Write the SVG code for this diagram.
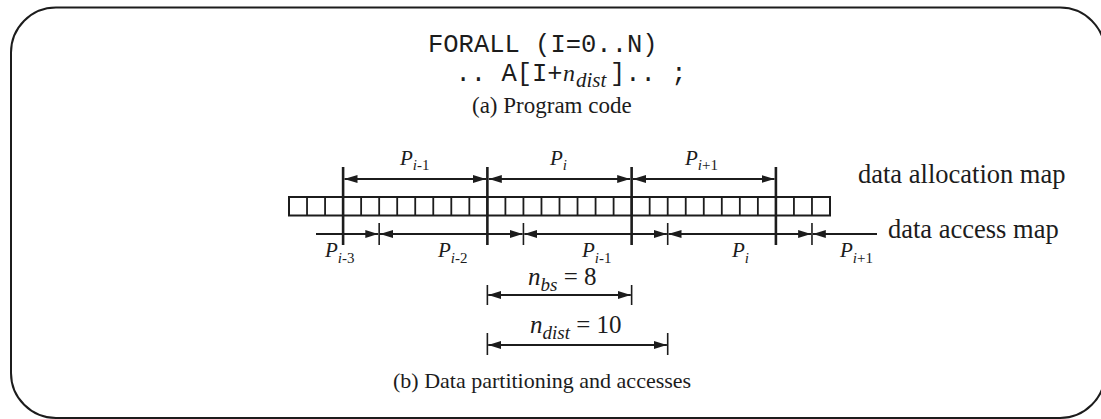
<svg xmlns="http://www.w3.org/2000/svg" width="1101" height="419" viewBox="0 0 1101 419">
<style>
.ink{fill:#1c1c1c}
.mono{font-family:"Liberation Mono","DejaVu Sans Mono",monospace;font-size:25.5px;fill:#1c1c1c}
.serif{font-family:"Liberation Serif","DejaVu Serif",serif;fill:#1c1c1c}
.it{font-style:italic}
.ln{stroke:#1c1c1c;fill:none}
.arr{stroke:#1c1c1c;stroke-width:1.8;fill:none;marker-start:url(#ah);marker-end:url(#ah)}
.arrE{stroke:#1c1c1c;stroke-width:1.8;fill:none;marker-end:url(#ah)}
.arrS{stroke:#1c1c1c;stroke-width:1.8;fill:none;marker-start:url(#ah)}
.bar{stroke:#1c1c1c;stroke-width:2.6}
.tick{stroke:#1c1c1c;stroke-width:1.6}
.P{font-size:21px}
.sub{font-size:15px}
</style>
<defs>
<marker id="ah" markerUnits="userSpaceOnUse" markerWidth="13" markerHeight="9" viewBox="0 0 13 9" refX="13" refY="4.5" orient="auto-start-reverse">
<path d="M0,0.5 L13,4.5 L0,8.5 z" fill="#1c1c1c"/>
</marker>
</defs>
<rect id="frame" x="11" y="7.5" width="1094" height="410.5" rx="45" ry="45" class="ln" stroke-width="2"/>
<g id="code">
<text class="mono" x="428" y="52">FORALL (I=0..N)</text>
<text class="mono" x="455.5" y="81">.. A[I+</text>
<text class="serif it" x="563" y="81" font-size="24">n</text>
<text class="serif it" x="576" y="87" font-size="21">dist</text>
<text class="mono" x="610" y="81">].. ;</text>
<text class="serif" x="472" y="113" font-size="23">(a) Program code</text>
</g>
<g id="array">
<rect x="289" y="197" width="541" height="18.5" class="ln" stroke-width="2"/>
<path class="ln" stroke-width="1.8" d="M307.03,197v18.5M325.07,197v18.5M343.1,197v18.5M361.13,197v18.5M379.17,197v18.5M397.2,197v18.5M415.23,197v18.5M433.27,197v18.5M451.3,197v18.5M469.33,197v18.5M487.37,197v18.5M505.4,197v18.5M523.43,197v18.5M541.47,197v18.5M559.5,197v18.5M577.53,197v18.5M595.57,197v18.5M613.6,197v18.5M631.63,197v18.5M649.67,197v18.5M667.7,197v18.5M685.73,197v18.5M703.77,197v18.5M721.8,197v18.5M739.83,197v18.5M757.87,197v18.5M775.9,197v18.5M793.93,197v18.5M811.97,197v18.5"/>
</g>
<g id="boundaries">
<line class="bar" x1="343.1" y1="167" x2="343.1" y2="245"/>
<line class="bar" x1="487.37" y1="167" x2="487.37" y2="245"/>
<line class="bar" x1="631.63" y1="167" x2="631.63" y2="245"/>
<line class="bar" x1="775.9" y1="167" x2="775.9" y2="245"/>
<line class="tick" x1="379.17" y1="223" x2="379.17" y2="245"/>
<line class="tick" x1="523.43" y1="223" x2="523.43" y2="245"/>
<line class="tick" x1="667.7" y1="223" x2="667.7" y2="245"/>
<line class="tick" x1="811.97" y1="223" x2="811.97" y2="245"/>
<line class="tick" x1="487.37" y1="285" x2="487.37" y2="305"/>
<line class="tick" x1="631.63" y1="285" x2="631.63" y2="305"/>
<line class="tick" x1="487.37" y1="333" x2="487.37" y2="355"/>
<line class="tick" x1="667.7" y1="333" x2="667.7" y2="355"/>
</g>
<g id="connectors">
<line class="arr" x1="344.5" y1="179" x2="486" y2="179"/>
<line class="arr" x1="488.8" y1="179" x2="630.2" y2="179"/>
<line class="arr" x1="633" y1="179" x2="774.5" y2="179"/>
<line class="arrE" x1="316" y1="234" x2="378.3" y2="234"/>
<line class="arr" x1="380" y1="234" x2="522.6" y2="234"/>
<line class="arr" x1="524.3" y1="234" x2="666.9" y2="234"/>
<line class="arr" x1="668.5" y1="234" x2="811.1" y2="234"/>
<line class="arrS" x1="812.8" y1="234" x2="877" y2="234"/>
<line class="arr" x1="488.2" y1="295" x2="630.8" y2="295"/>
<line class="arr" x1="488.2" y1="345" x2="666.9" y2="345"/>
</g>
<g id="labels" class="serif">
<text class="P" x="400" y="165"><tspan class="it">P</tspan><tspan class="sub" dy="5"><tspan class="it">i</tspan>-1</tspan></text>
<text class="P" x="550" y="165"><tspan class="it">P</tspan><tspan class="sub it" dy="5">i</tspan></text>
<text class="P" x="685" y="165"><tspan class="it">P</tspan><tspan class="sub" dy="5"><tspan class="it">i</tspan>+1</tspan></text>
<text class="P" x="325" y="257"><tspan class="it">P</tspan><tspan class="sub" dy="6"><tspan class="it">i</tspan>-3</tspan></text>
<text class="P" x="438" y="257"><tspan class="it">P</tspan><tspan class="sub" dy="6"><tspan class="it">i</tspan>-2</tspan></text>
<text class="P" x="582" y="257"><tspan class="it">P</tspan><tspan class="sub" dy="6"><tspan class="it">i</tspan>-1</tspan></text>
<text class="P" x="732" y="257"><tspan class="it">P</tspan><tspan class="sub it" dy="6">i</tspan></text>
<text class="P" x="840" y="257"><tspan class="it">P</tspan><tspan class="sub" dy="6"><tspan class="it">i</tspan>+1</tspan></text>
<text x="528" y="285" font-size="25"><tspan class="it">n</tspan><tspan class="it" font-size="19" dy="6">bs</tspan><tspan dy="-6"> = 8</tspan></text>
<text x="530" y="333" font-size="25"><tspan class="it">n</tspan><tspan class="it" font-size="19" dy="6">dist</tspan><tspan dy="-6"> = 10</tspan></text>
<text x="858" y="183" font-size="26.5">data allocation map</text>
<text x="888" y="238" font-size="26.5">data access map</text>
<text x="393" y="388" font-size="22">(b) Data partitioning and accesses</text>
</g>
</svg>
